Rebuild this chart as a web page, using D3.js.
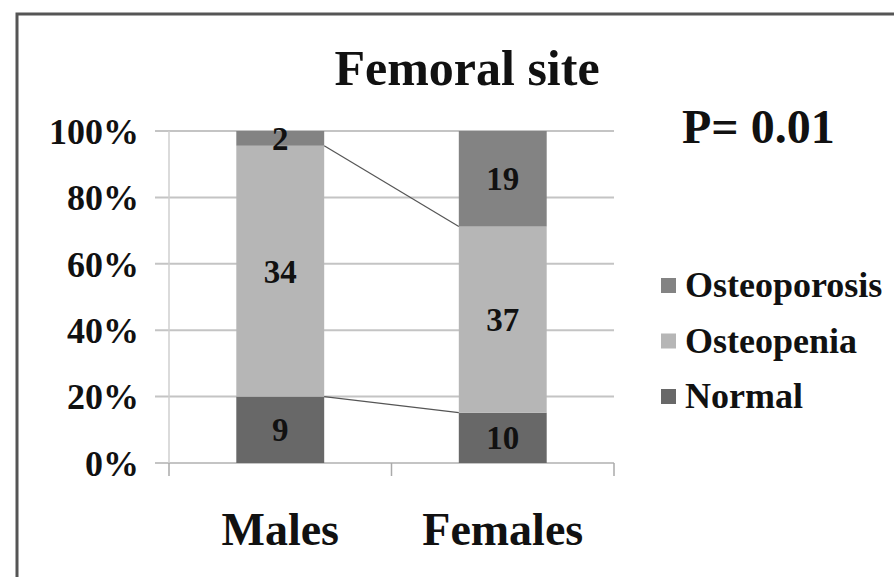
<!DOCTYPE html>
<html>
<head>
<meta charset="utf-8">
<script src="https://cdn.jsdelivr.net/npm/d3@7"></script>
<style>
  body { margin: 0; background: #fff; }
  svg text { font-family: "Liberation Serif", "Times New Roman", serif; font-weight: bold; fill: #111; }
</style>
</head>
<body>
<div class="chart-container"></div>
<script>
//! DATA
const CATEGORIES = ['Males', 'Females'];
const SERIES = ['Normal', 'Osteopenia', 'Osteoporosis'];
const NORMAL = [9, 10];
const OSTEOPENIA = [34, 37];
const OSTEOPOROSIS = [2, 19];
const Y_TICKS = [0, 0.2, 0.4, 0.6, 0.8, 1];
const TITLE = 'Femoral site';
const P_TEXT = 'P= 0.01';

//! CONSTS
const WIDTH = 894;
const HEIGHT = 577;
const COLORS = { Normal: '#686868', Osteopenia: '#b6b6b6', Osteoporosis: '#838383' };

const svg = d3.select('.chart-container')
  .append('svg')
  .attr('width', WIDTH)
  .attr('height', HEIGHT);

// outer frame (right / bottom edges run off the picture)
svg.append('rect')
  .attr('x', 17).attr('y', 14)
  .attr('width', 920).attr('height', 600)
  .attr('fill', 'none')
  .attr('stroke', '#555')
  .attr('stroke-width', 3);

// build rows for the stack
const rows = CATEGORIES.map((c, i) => ({
  cat: c,
  Normal: NORMAL[i],
  Osteopenia: OSTEOPENIA[i],
  Osteoporosis: OSTEOPOROSIS[i]
}));

const stacked = d3.stack()
  .keys(SERIES)
  .offset(d3.stackOffsetExpand)(rows);

const x = d3.scaleBand().domain(CATEGORIES).range([169, 614]);
const y = d3.scaleLinear().domain([0, 1]).range([463, 131]);
const barW = x.bandwidth() * 0.395;
const barX = c => x(c) + (x.bandwidth() - barW) / 2;

// gridlines
svg.append('g')
  .selectAll('line')
  .data(Y_TICKS)
  .enter()
  .append('line')
  .attr('x1', 155).attr('x2', 614)
  .attr('y1', d => y(d)).attr('y2', d => y(d))
  .attr('stroke', '#c4c4c4')
  .attr('stroke-width', 2);

// y axis line
svg.append('line')
  .attr('x1', 169).attr('x2', 169)
  .attr('y1', y(1)).attr('y2', y(0))
  .attr('stroke', '#cfcfcf')
  .attr('stroke-width', 1.5);

// x axis ticks
const xTicks = [x.range()[0], x(CATEGORIES[1]), x.range()[1]];
svg.append('g')
  .selectAll('line')
  .data(xTicks)
  .enter()
  .append('line')
  .attr('x1', d => d).attr('x2', d => d)
  .attr('y1', y(0)).attr('y2', y(0) + 13)
  .attr('stroke', '#aaa')
  .attr('stroke-width', 1.5);

// y tick labels
const yAxis = svg.append('g')
  .attr('transform', 'translate(139,0)')
  .call(d3.axisLeft(y).tickValues(Y_TICKS).tickFormat(d3.format('.0%')).tickSize(0).tickPadding(0));
yAxis.select('.domain').remove();
yAxis.selectAll('text')
  .style('font-family', '"Liberation Serif", serif')
  .style('font-weight', 'bold')
  .style('font-size', '36px')
  .attr('fill', '#111')
  .attr('dy', '0.34em');

// bars
const layers = svg.append('g')
  .selectAll('g')
  .data(stacked)
  .enter()
  .append('g')
  .attr('fill', d => COLORS[d.key]);

layers.selectAll('rect')
  .data(d => d)
  .enter()
  .append('rect')
  .attr('x', d => barX(d.data.cat))
  .attr('width', barW)
  .attr('y', d => y(d[1]))
  .attr('height', d => y(d[0]) - y(d[1]));

// series lines between segment tops (skip the 100% top)
svg.append('g')
  .selectAll('line')
  .data(stacked.slice(0, -1))
  .enter()
  .append('line')
  .attr('x1', barX(CATEGORIES[0]) + barW)
  .attr('x2', barX(CATEGORIES[1]))
  .attr('y1', d => y(d[0][1]))
  .attr('y2', d => y(d[1][1]))
  .attr('stroke', '#555')
  .attr('stroke-width', 1.2);

// data labels
layers.selectAll('text')
  .data(d => d.map(v => Object.assign({ key: d.key }, v)))
  .enter()
  .append('text')
  .attr('x', d => barX(d.data.cat) + barW / 2)
  .attr('y', d => (y(d[0]) + y(d[1])) / 2)
  .attr('dy', '0.35em')
  .attr('text-anchor', 'middle')
  .style('font-size', '33px')
  .text(d => d.data[d.key]);

// category labels
svg.append('g')
  .selectAll('text')
  .data(CATEGORIES)
  .enter()
  .append('text')
  .attr('x', d => x(d) + x.bandwidth() / 2)
  .attr('y', 545)
  .attr('text-anchor', 'middle')
  .style('font-size', '46px')
  .text(d => d);

// title
svg.append('text')
  .attr('x', 467).attr('y', 85)
  .attr('text-anchor', 'middle')
  .style('font-size', '50px')
  .text(TITLE);

svg.append('text')
  .attr('x', 682).attr('y', 143)
  .style('font-size', '48px')
  .text(P_TEXT);

// legend (top to bottom: reversed stack order)
const legend = svg.append('g')
  .selectAll('g')
  .data(SERIES.slice().reverse())
  .enter()
  .append('g')
  .attr('transform', (d, i) => `translate(661, ${297 + i * 55.5})`);

legend.append('rect')
  .attr('x', 0).attr('y', -19)
  .attr('width', 15).attr('height', 15)
  .attr('fill', d => COLORS[d]);

legend.append('text')
  .attr('x', 24).attr('y', 0)
  .style('font-size', '36px')
  .text(d => d);
</script>
</body>
</html>
